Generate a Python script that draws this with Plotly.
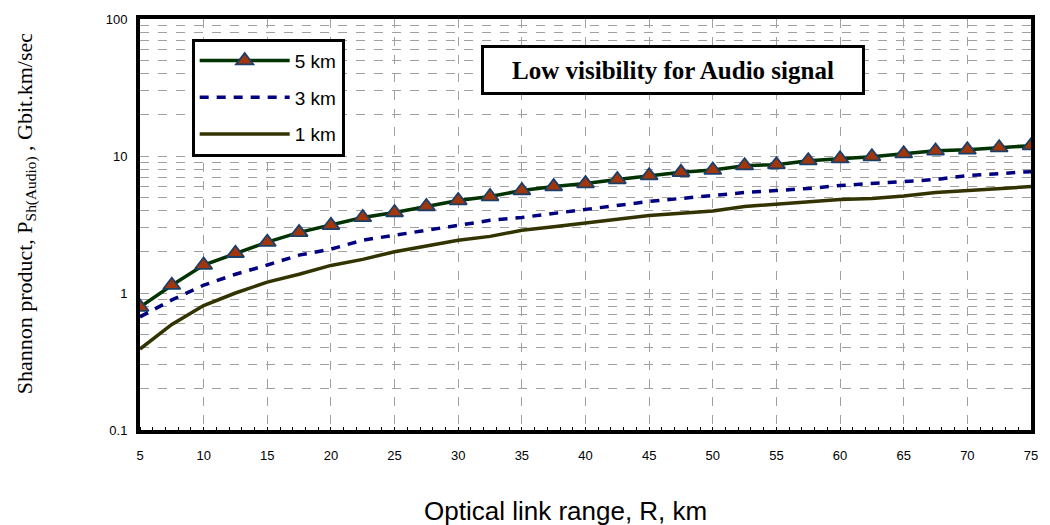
import plotly.graph_objects as go

# Optical link range, km
r_km = [5, 7.5, 10, 12.5, 15, 17.5, 20, 22.5, 25, 27.5, 30, 32.5, 35, 37.5, 40,
        42.5, 45, 47.5, 50, 52.5, 55, 57.5, 60, 62.5, 65, 67.5, 70, 72.5, 75]

# Shannon product, Gbit.km/sec
p_5km = [0.79, 1.14, 1.60, 1.95, 2.35, 2.77, 3.12, 3.56, 3.87, 4.28, 4.73, 5.06, 5.60, 5.98, 6.29,
         6.73, 7.19, 7.60, 7.90, 8.50, 8.65, 9.25, 9.56, 9.89, 10.4, 10.9, 11.1, 11.5, 11.9]
p_3km = [0.67, 0.89, 1.14, 1.37, 1.60, 1.89, 2.09, 2.43, 2.64, 2.87, 3.12, 3.39, 3.56, 3.81, 4.07,
         4.35, 4.66, 4.90, 5.15, 5.41, 5.60, 5.79, 6.09, 6.29, 6.51, 6.73, 7.19, 7.44, 7.69]
p_1km = [0.39, 0.59, 0.81, 1.00, 1.20, 1.37, 1.59, 1.76, 2.00, 2.21, 2.43, 2.59, 2.87, 3.05, 3.22,
         3.45, 3.68, 3.81, 3.97, 4.28, 4.43, 4.58, 4.81, 4.90, 5.10, 5.41, 5.60, 5.79, 5.98]

x_ticks = [5, 10, 15, 20, 25, 30, 35, 40, 45, 50, 55, 60, 65, 70, 75]
y_ticks = [0.1, 1, 10, 100]
y_ticklabels = ["0.1", "1", "10", "100"]

fig = go.Figure()
fig.add_trace(go.Scatter(
    x=r_km, y=p_5km, name="5 km", mode="lines+markers", legendgroup="a",
    line=dict(color="#003300", width=3.5),
    marker=dict(symbol="triangle-up", size=15, color="#A0360A",
                line=dict(color="#1B3F6B", width=1.8)),
))
fig.add_trace(go.Scatter(
    x=r_km, y=p_3km, name="3 km", mode="lines", legendgroup="b",
    line=dict(color="#000080", width=3.5, dash="9px,8px"),
))
fig.add_trace(go.Scatter(
    x=r_km, y=p_1km, name="1 km", mode="lines", legendgroup="c",
    line=dict(color="#333300", width=3.5),
))

grid_color = "#A0A0A0"
fig.update_layout(
    width=1050, height=525,
    margin=dict(l=140, r=14, t=16, b=95),
    paper_bgcolor="white", plot_bgcolor="white",
    font=dict(family="Liberation Sans, Arial", color="black", size=13),
    showlegend=True,
    legend=dict(
        x=0.058, y=0.952, xanchor="left", yanchor="top",
        bgcolor="white", bordercolor="black", borderwidth=3,
        font=dict(family="Liberation Sans, Arial", size=19, color="black"),
        traceorder="grouped", tracegroupgap=9, itemwidth=90,
        entrywidth=92,
    ),
    xaxis=dict(
        range=[5, 75], tickvals=x_ticks, ticktext=[str(v) for v in x_ticks],
        showline=True, linecolor="black", linewidth=4, mirror=True,
        showgrid=True, gridcolor=grid_color, griddash="dash", gridwidth=1,
        ticks="", ticklabelstandoff=10, zeroline=False,
        minor=dict(dtick=1, ticks="inside", ticklen=3, tickcolor="black", showgrid=False),
        tickfont=dict(size=13),
    ),
    yaxis=dict(
        type="log", range=[-1, 2], tickvals=y_ticks, ticktext=y_ticklabels,
        showline=True, linecolor="black", linewidth=4, mirror=True,
        showgrid=True, gridcolor=grid_color, griddash="dash", gridwidth=1,
        ticks="", ticklabelstandoff=6, zeroline=False,
        minor=dict(dtick="D1", showgrid=True, gridcolor=grid_color, griddash="dash", gridwidth=1),
        tickfont=dict(size=13),
    ),
)

fig.add_annotation(
    text="<b>Low visibility for Audio signal</b>",
    xref="paper", yref="paper", x=0.598, y=0.877, xanchor="center", yanchor="middle",
    showarrow=False, font=dict(family="Liberation Serif, Times New Roman", size=25, color="black"),
    bgcolor="white", bordercolor="black", borderwidth=3, width=376, height=42,
)
fig.add_annotation(
    text="Shannon product, P<sub>Sh(Audio)</sub> , Gbit.km/sec",
    xref="paper", yref="paper", x=-0.128, y=0.527, xanchor="center", yanchor="middle",
    textangle=-90, showarrow=False,
    font=dict(family="Liberation Serif, Times New Roman", size=22, color="black"),
)
fig.add_annotation(
    text="Optical link range, R, km",
    xref="paper", yref="paper", x=0.478, y=-0.196, xanchor="center", yanchor="middle",
    showarrow=False,
    font=dict(family="Liberation Sans, Arial", size=26, color="black"),
)

fig.write_html("out.html")
